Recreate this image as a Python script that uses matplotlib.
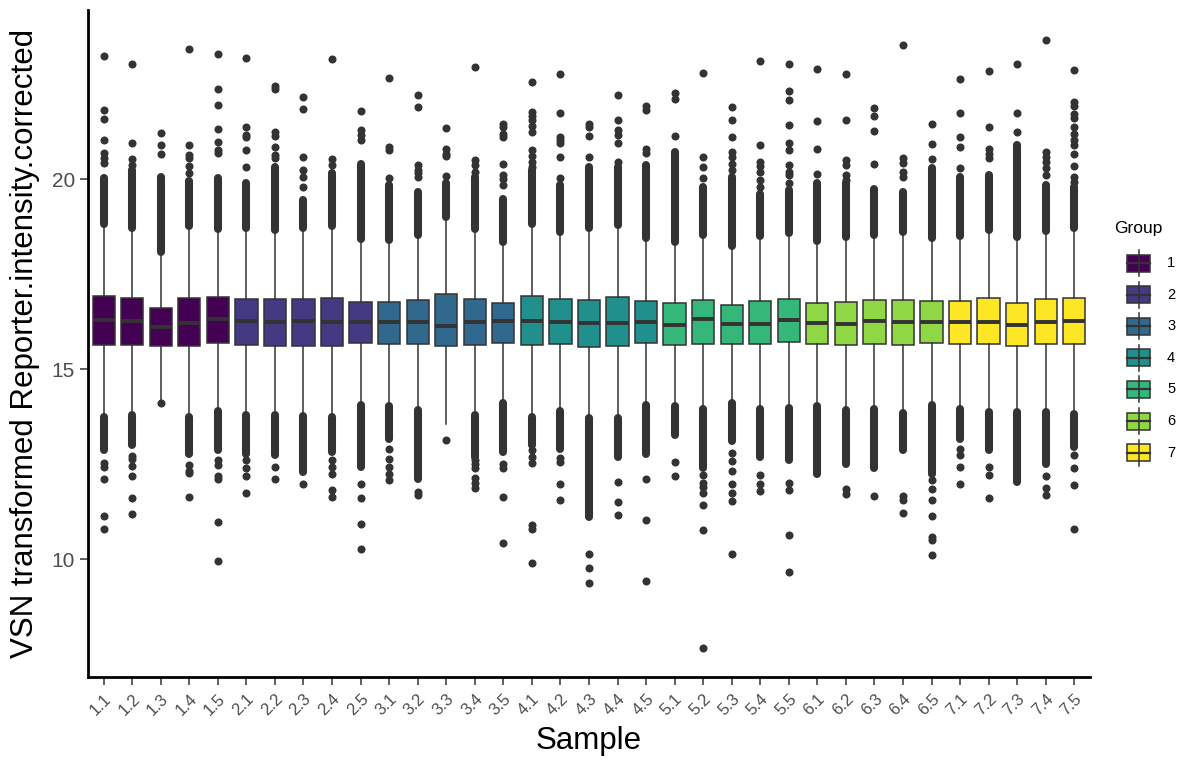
import numpy as np
import matplotlib
matplotlib.use("Agg")
import matplotlib.pyplot as plt
from matplotlib.patches import Rectangle

plt.rcParams["font.family"] = ["Liberation Sans", "DejaVu Sans"]

# sample labels: group.replicate
groups = [1, 2, 3, 4, 5, 6, 7]
samples = [f"{g}.{r}" for g in groups for r in range(1, 6)]
group_colors = ["#440154", "#443A83", "#31688E", "#21908C", "#35B779", "#8FD744", "#FDE725"]

q1 = [15.65, 15.65, 15.62, 15.62, 15.70, 15.63, 15.62, 15.62, 15.62, 15.69,
      15.67, 15.66, 15.61, 15.63, 15.69, 15.65, 15.67, 15.58, 15.62, 15.70,
      15.65, 15.67, 15.66, 15.66, 15.71, 15.66, 15.63, 15.67, 15.64, 15.70,
      15.66, 15.67, 15.60, 15.66, 15.66]
med = [16.30, 16.27, 16.11, 16.22, 16.33, 16.26, 16.23, 16.26, 16.23, 16.24,
       16.24, 16.24, 16.14, 16.24, 16.27, 16.27, 16.24, 16.22, 16.22, 16.24,
       16.15, 16.31, 16.20, 16.20, 16.29, 16.22, 16.20, 16.26, 16.24, 16.24,
       16.24, 16.23, 16.15, 16.24, 16.26]
q3 = [16.92, 16.88, 16.61, 16.88, 16.90, 16.86, 16.84, 16.86, 16.88, 16.78,
      16.76, 16.81, 16.97, 16.85, 16.75, 16.92, 16.85, 16.83, 16.89, 16.80,
      16.73, 16.81, 16.69, 16.80, 16.86, 16.75, 16.77, 16.81, 16.83, 16.80,
      16.80, 16.87, 16.75, 16.85, 16.88]

# overplotted runs of outliers just past the whiskers (upper end / lower end)
dense_hi = [20.02, 20.24, 20.06, 19.96, 20.02, 19.89, 20.32, 19.45, 20.15, 20.41,
            19.84, 19.67, 19.89, 20.06, 19.49, 20.24, 19.84, 20.32, 20.32, 20.37,
            20.72, 19.80, 20.06, 19.62, 19.71, 19.89, 19.89, 19.75, 19.67, 20.28,
            20.06, 20.10, 20.89, 19.84, 19.80]
dense_lo = [12.87, 13.00, np.nan, 12.78, 12.87, 12.78, 12.74, 12.30, 12.83, 12.43,
            13.16, 12.12, np.nan, 12.69, 12.83, 13.00, 12.91, 11.11, 12.70, 12.78,
            13.26, 12.39, 13.10, 12.70, 12.61, 12.25, 12.50, 12.39, 12.87, 12.25,
            13.17, 12.87, 12.03, 12.50, 12.96]

# separate outliers
upper_fliers = [
    [23.24, 21.82, 21.57, 21.03, 20.68, 20.55, 20.42],
    [23.04, 20.94, 20.54, 20.37],
    [21.22, 20.91, 20.65],
    [23.41, 20.91, 20.63, 20.55, 20.34, 20.15],
    [23.29, 22.37, 21.94, 21.33, 20.98, 20.76, 20.70],
    [23.18, 21.38, 21.15, 21.10, 20.76, 20.32],
    [22.46, 22.38, 21.25, 21.13, 20.85, 20.63, 20.55],
    [22.17, 21.84, 20.59, 20.24, 20.06, 19.80],
    [23.16, 20.54, 20.38],
    [21.80, 21.29, 21.16, 21.03],
    [22.66, 20.85, 20.76, 20.02],
    [22.20, 21.90, 20.37, 20.25, 20.15, 20.06],
    [21.35, 20.78, 20.67, 20.60, 20.09],
    [22.96, 20.50, 20.37, 20.20],
    [21.46, 21.37, 21.20, 21.11, 20.41, 20.10, 20.00, 19.85],
    [22.56, 21.77, 21.65, 21.55, 21.40, 21.25, 20.76, 20.60, 20.45, 20.32],
    [22.76, 21.73, 21.10, 21.02, 20.94, 20.59, 20.02],
    [21.46, 21.38, 21.14, 20.59],
    [22.21, 21.55, 21.30, 21.15, 20.94, 20.46],
    [21.92, 21.82, 20.80, 20.68],
    [22.26, 22.12, 21.13],
    [22.80, 20.59, 20.32, 20.02],
    [21.89, 21.56, 21.10, 20.72, 20.59, 20.40, 20.25],
    [23.11, 20.89, 20.46, 20.35, 20.20, 19.98, 19.80],
    [23.04, 22.32, 22.08, 21.43, 20.94, 20.76, 20.37, 20.20, 20.10, 19.89],
    [22.89, 21.53, 20.79, 20.13],
    [22.76, 21.56, 20.50, 20.37, 20.10, 19.98],
    [21.86, 21.66, 21.27, 20.39],
    [23.53, 20.55, 20.42, 20.20, 20.06],
    [21.46, 20.92, 20.54],
    [22.63, 21.73, 21.10, 20.85, 20.28],
    [22.85, 21.36, 20.80, 20.65, 20.55],
    [23.04, 21.75, 21.25],
    [23.66, 20.72, 20.59, 20.45, 20.30, 20.10],
    [22.87, 22.03, 21.92, 21.71, 21.60, 21.36, 21.18, 21.04, 20.89, 20.66, 20.34, 20.06, 19.93],
]
lower_fliers = [
    [12.52, 12.43, 12.12, 11.14, 10.79],
    [12.73, 12.64, 12.46, 12.19, 11.60, 11.20],
    [14.10],
    [12.49, 12.33, 12.28, 11.64],
    [12.61, 12.49, 12.20, 12.12, 10.97, 9.96],
    [12.61, 12.40, 12.20, 11.75],
    [12.42, 12.12],
    [11.99],
    [12.61, 12.43, 12.25, 11.83, 11.63],
    [11.97, 11.60, 10.93, 10.26],
    [12.90, 12.65, 12.42, 12.25, 12.08],
    [11.78, 11.70],
    [13.14],
    [12.60, 12.50, 12.40, 12.15, 12.00, 11.88],
    [12.50, 12.40, 11.65, 10.44],
    [12.87, 12.69, 12.52, 10.90, 10.80, 9.91],
    [12.66, 12.57, 11.97, 11.56],
    [10.15, 9.77, 9.38],
    [12.03, 11.51, 11.16],
    [12.12, 11.04, 9.42],
    [12.56, 12.18],
    [12.21, 12.00, 11.90, 11.75, 11.42, 10.78, 7.67],
    [12.80, 12.59, 12.33, 11.97, 11.75, 11.53, 10.15],
    [12.21, 11.98, 11.79],
    [12.01, 11.82, 10.65, 9.67],
    [],
    [11.86, 11.73],
    [11.66],
    [11.66, 11.57, 11.22],
    [12.08, 11.86, 11.55, 11.14, 10.59, 10.50, 10.12],
    [12.91, 12.74, 12.43, 11.99],
    [12.42, 12.23, 11.61],
    [],
    [12.18, 11.88, 11.68],
    [12.74, 12.39, 11.95, 10.79],
]

DARK = "#333333"
pos = np.arange(1, len(samples) + 1)

fig = plt.figure(figsize=(12, 7.66), dpi=100)
ax = fig.add_axes([0.0733, 0.116, 0.835, 0.871])

stats = []
for i in range(len(samples)):
    iqr = q3[i] - q1[i]
    stats.append(dict(med=med[i], q1=q1[i], q3=q3[i],
                      whislo=q1[i] - 1.5 * iqr, whishi=q3[i] + 1.5 * iqr,
                      fliers=[]))

# outliers first so boxes sit on top
for i, x in enumerate(pos):
    st = stats[i]
    if dense_hi[i] > st["whishi"]:
        ax.plot([x, x], [st["whishi"], dense_hi[i]], color=DARK, lw=5.8,
                solid_capstyle="round", zorder=1)
    if not np.isnan(dense_lo[i]):
        ax.plot([x, x], [dense_lo[i], st["whislo"]], color=DARK, lw=5.8,
                solid_capstyle="round", zorder=1)
    pts = upper_fliers[i] + lower_fliers[i]
    if pts:
        ax.plot([x] * len(pts), pts, "o", color=DARK, ms=5.8, mew=0, zorder=1)

bp = ax.bxp(stats, positions=pos, widths=0.78, patch_artist=True,
            showfliers=False, showcaps=False,
            boxprops=dict(edgecolor=DARK, linewidth=1.1),
            whiskerprops=dict(color=DARK, linewidth=1.1),
            medianprops=dict(color=DARK, linewidth=2.8, solid_capstyle="butt"),
            zorder=2)
for i, box in enumerate(bp["boxes"]):
    box.set_facecolor(group_colors[i // 5])

ax.set_xlim(0.45, 35.55)
ax.set_ylim(6.9, 24.45)
ax.set_yticks([10, 15, 20])
ax.set_xticks(pos)
ax.set_xticklabels(samples, rotation=45, ha="right", va="top",
                   rotation_mode="anchor", fontsize=12, color="#4D4D4D")
ax.tick_params(axis="y", labelsize=15, labelcolor="#4D4D4D", length=6,
               width=1.1, color=DARK)
ax.tick_params(axis="x", length=6, width=1.1, color=DARK, pad=4)
for s in ["top", "right"]:
    ax.spines[s].set_visible(False)
for s in ["left", "bottom"]:
    ax.spines[s].set_linewidth(2.0)
    ax.spines[s].set_color("black")
ax.set_xlabel("Sample", fontsize=22.5, labelpad=6)
ax.set_ylabel("VSN transformed Reporter.intensity.corrected", fontsize=22.5, labelpad=8)

# legend drawn in pixel coordinates
lax = fig.add_axes([0, 0, 1, 1], facecolor="none")
lax.set_xlim(0, 1200)
lax.set_ylim(766, 0)
lax.axis("off")
lax.text(1114, 228, "Group", fontsize=12.5, va="center", ha="left")
for i, g in enumerate(groups):
    yc = 263 + 31.6 * i
    lax.plot([1138.5, 1138.5], [yc - 13, yc + 13], color=DARK, lw=1.1)
    lax.add_patch(Rectangle((1127, yc - 8.5), 23, 17, facecolor=group_colors[i],
                            edgecolor=DARK, lw=1.1))
    lax.plot([1127, 1150], [yc, yc], color=DARK, lw=1.6)
    lax.text(1167, yc, str(g), fontsize=10.5, va="center", ha="left")

fig.savefig("out.png", dpi=100)
